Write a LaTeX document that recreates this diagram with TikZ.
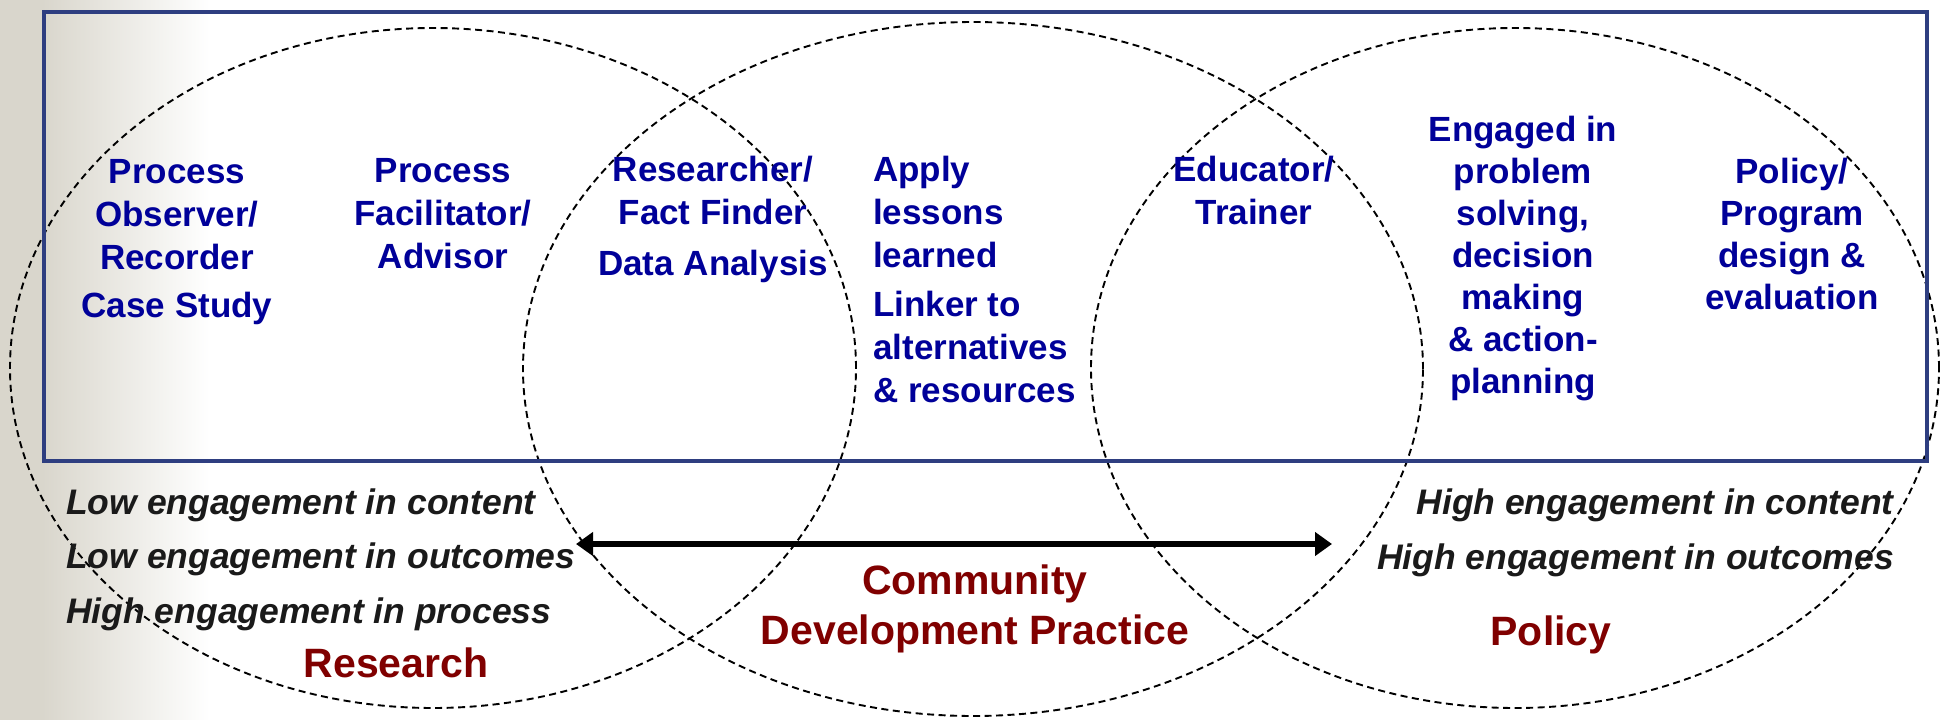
\documentclass[tikz,border=0pt]{standalone}
\usepackage{fontspec}
\setmainfont{Liberation Sans}
\usetikzlibrary{arrows.meta}
\definecolor{bgray}{RGB}{217,214,204}
\definecolor{tblue}{RGB}{0,0,153}
\definecolor{tred}{RGB}{128,0,0}
\definecolor{framec}{RGB}{46,62,128}
\definecolor{tdark}{RGB}{26,26,26}
\begin{document}
\begin{tikzpicture}[x=1pt,y=-1pt,
  role/.style={text=tblue, font=\fontsize{35}{43}\selectfont\bfseries, align=center, inner sep=0pt, anchor=base},
  eng/.style={text=tdark, font=\fontsize{35.5}{54.5}\selectfont\bfseries\itshape, inner sep=0pt},
  area/.style={text=tred, font=\fontsize{41}{50}\selectfont\bfseries, align=center, inner sep=0pt, anchor=base},
  venn/.style={draw=black, line width=1.9pt, dash pattern=on 7pt off 4.5pt},
]
\useasboundingbox (0,0) rectangle (1944,720);
\fill[white] (0,0) rectangle (1944,720);
\fill[bgray] (0,0) rectangle (42,720);
\shade[left color=bgray, right color=white] (42,0) rectangle (210,720);

% Venn ellipses
\draw[venn] (433,368) ellipse [x radius=423pt, y radius=340pt];
\draw[venn] (973,369) ellipse [x radius=450pt, y radius=347pt];
\draw[venn] (1515,368) ellipse [x radius=424pt, y radius=340pt];

% frame
\node[draw=framec, line width=4pt, minimum width=1883pt, minimum height=449pt, inner sep=0pt] (box) at (985.5,236.5) {};

% roles (anchor base = baseline of last line)
\node[role] (obs) at (177,317) {Process\\Observer/\\Recorder\\[5pt]Case Study};
\node[role] (fac) at (443,268) {Process\\Facilitator/\\Advisor};
\node[role] (res) at (713,275) {Researcher/\\Fact Finder\\[8pt]Data Analysis};
\node[role, align=left, anchor=base west] (apply) at (873,402) {Apply\\lessons\\learned\\[6pt]Linker to\\alternatives\\\& resources};
\node[role] (edu) at (1254,224) {Educator/\\Trainer};
\node[role, font=\fontsize{35}{42}\selectfont\bfseries] (eng) at (1523,393) {Engaged in\\problem\\solving,\\decision\\making\\\& action-\\planning};
\node[role, font=\fontsize{35}{42}\selectfont\bfseries] (pol) at (1792,309) {Policy/\\Program\\design \&\\evaluation};

% engagement
\node[eng, align=left, anchor=base west] (low) at (66,623) {Low engagement in content\\Low engagement in outcomes\\High engagement in process};
\node[eng, align=right, anchor=base east] (high) at (1894,569) {High engagement in content\\High engagement in outcomes};

% areas
\node[area] (research) at (396,677) {Research};
\node[area] (cdp) at (975,644) {Community\\Development Practice};
\node[area] (policy) at (1551,645) {Policy};

% arrow
\coordinate (aL) at (576,544);
\coordinate (aR) at (1332,544);
\draw[line width=6pt, {Triangle[length=17pt,width=23pt]}-{Triangle[length=17pt,width=23pt]}] (aL) -- (aR);
\end{tikzpicture}
\end{document}
